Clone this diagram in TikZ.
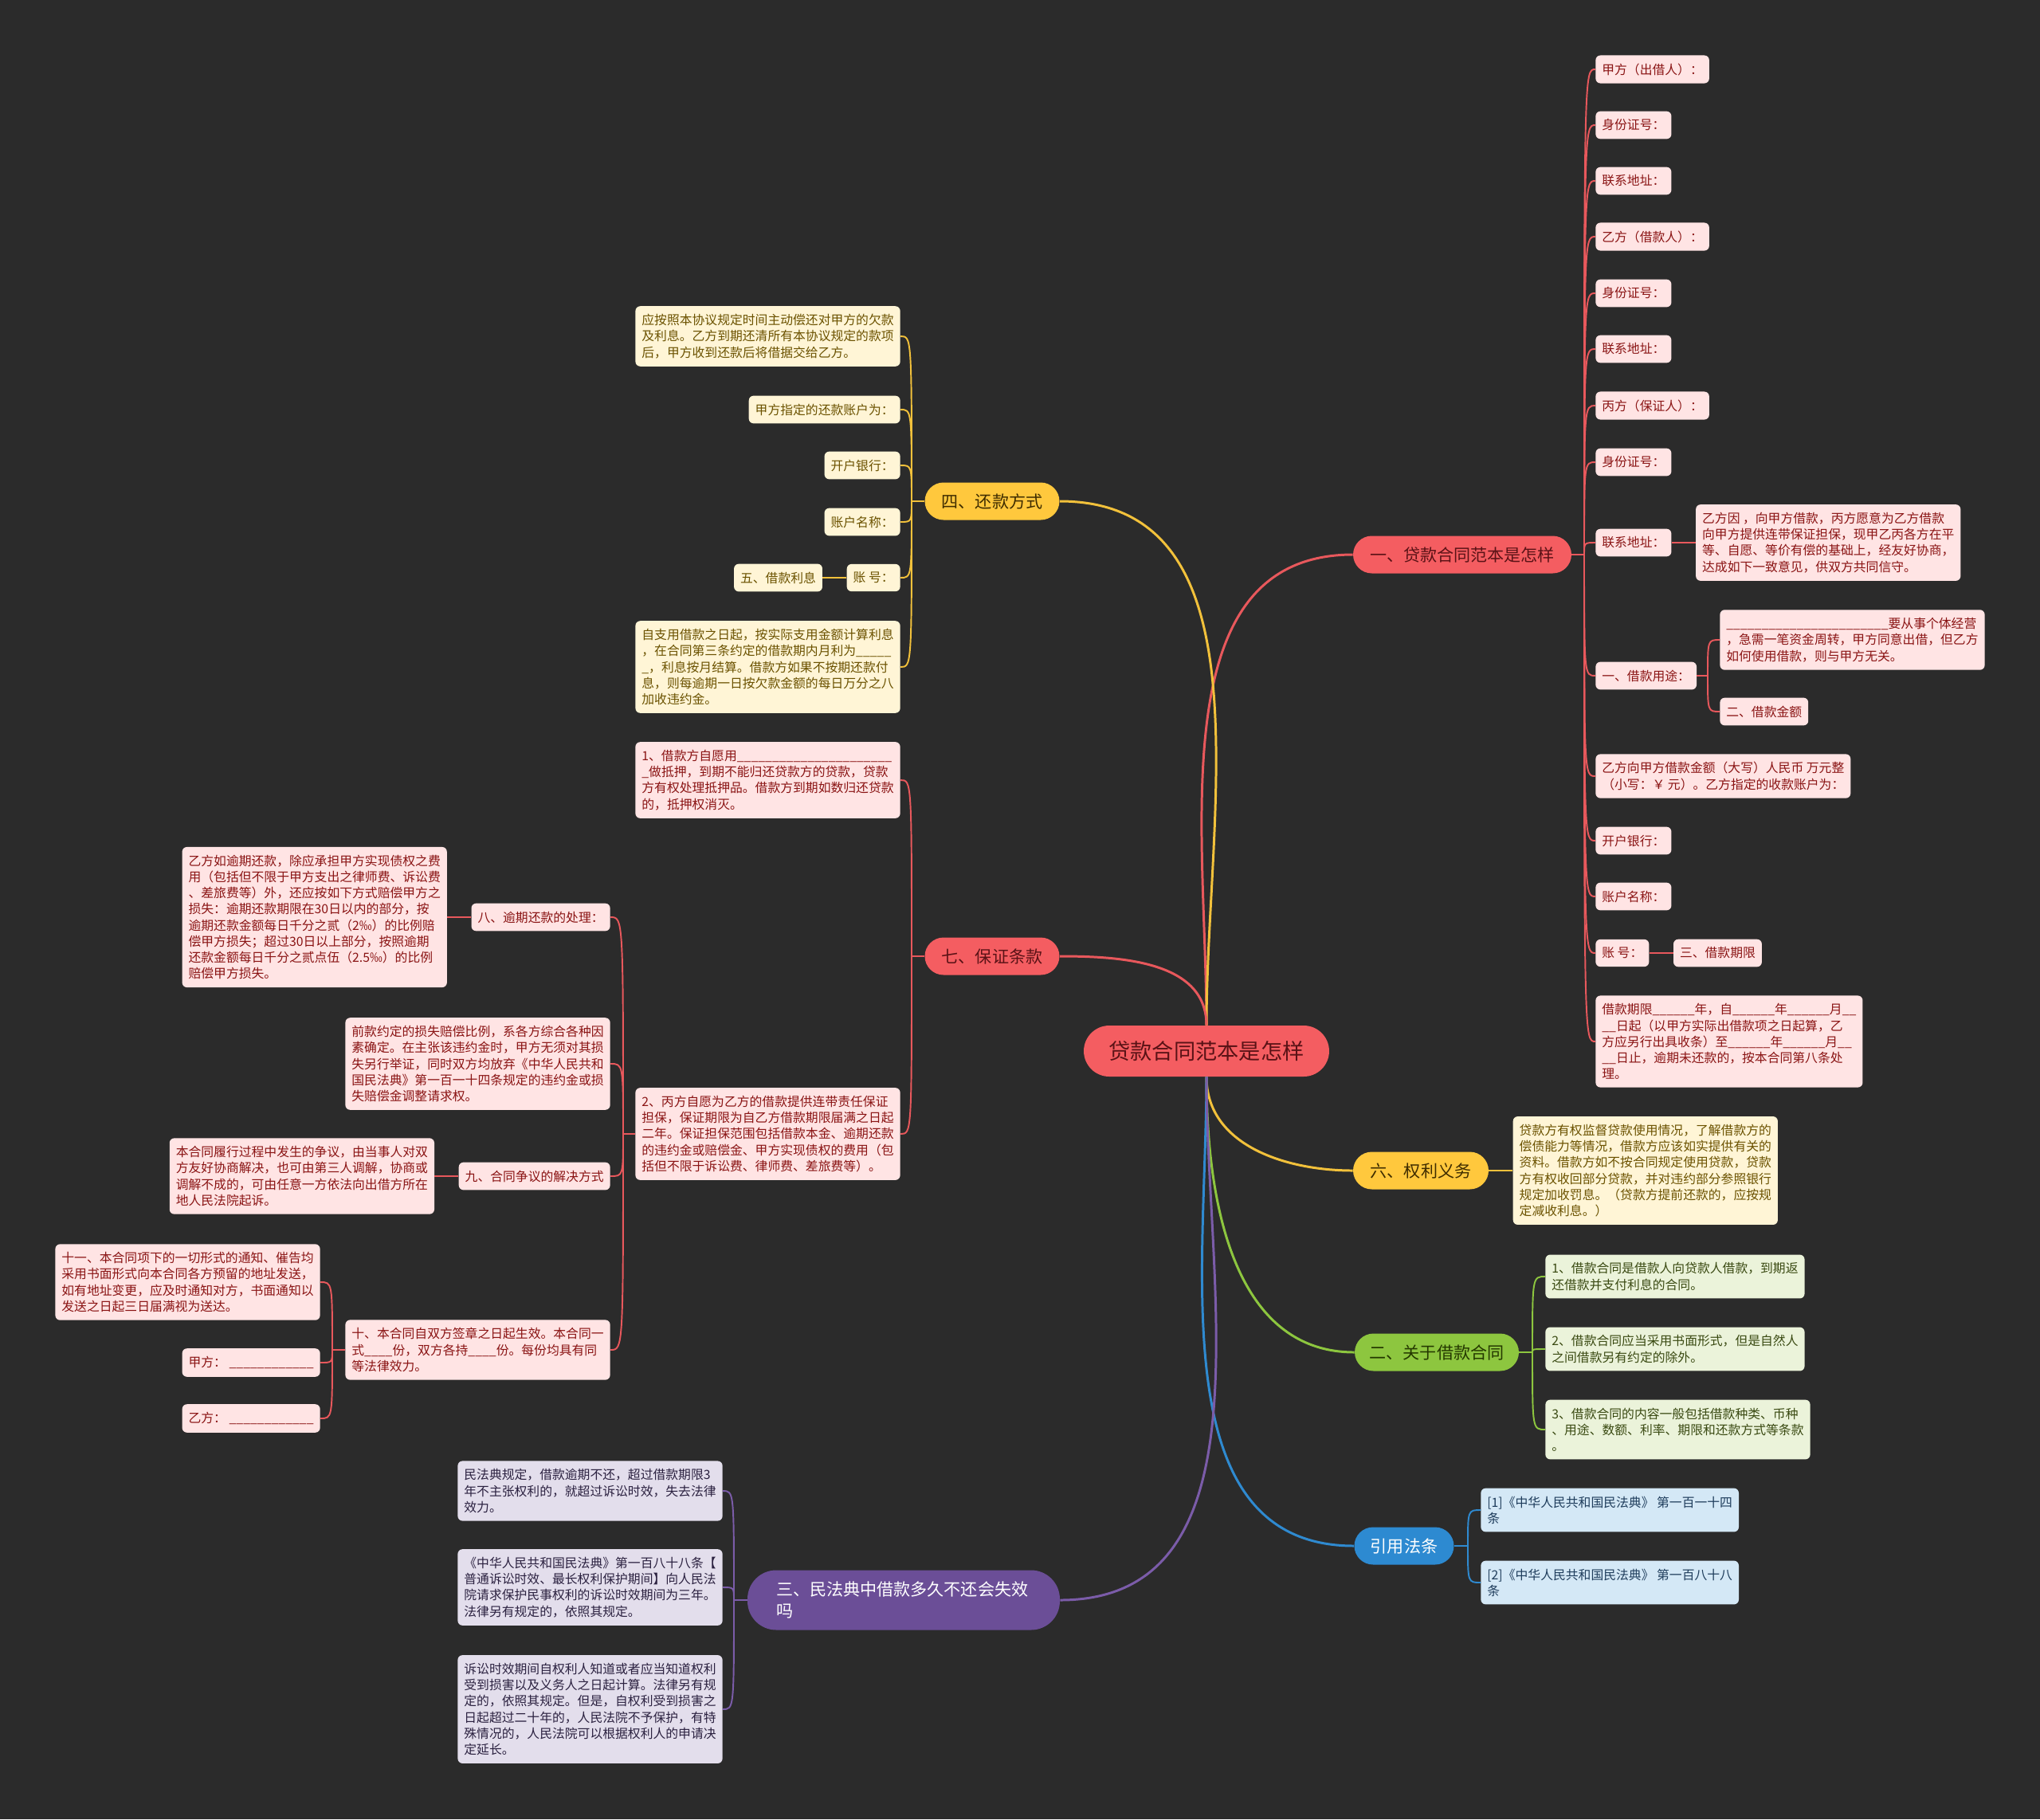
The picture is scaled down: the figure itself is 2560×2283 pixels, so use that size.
\documentclass[tikz,border=0pt]{standalone}
\usepackage{fontspec}
\setmainfont{Noto Sans CJK SC}
\usetikzlibrary{positioning}

\definecolor{bg}{HTML}{2B2B2B}
\definecolor{redmain}{HTML}{F45D61}
\definecolor{redtext}{HTML}{5A1216}
\definecolor{rfill}{HTML}{FFE4E4}
\definecolor{rtext}{HTML}{8A1414}
\definecolor{rcol}{HTML}{E8585C}
\definecolor{ymain}{HTML}{FFC83D}
\definecolor{ytext}{HTML}{3F2D00}
\definecolor{yfill}{HTML}{FFF5D6}
\definecolor{yltext}{HTML}{6B5200}
\definecolor{ycol}{HTML}{F2C13B}
\definecolor{gmain}{HTML}{8DC63F}
\definecolor{gtext}{HTML}{243800}
\definecolor{gfill}{HTML}{EBF3DA}
\definecolor{gltext}{HTML}{3A4A12}
\definecolor{gcol}{HTML}{8DC63F}
\definecolor{qmain}{HTML}{2D8AD1}
\definecolor{qfill}{HTML}{D4E8F6}
\definecolor{qltext}{HTML}{1F3D5C}
\definecolor{qcol}{HTML}{2F8AD0}
\definecolor{pmain}{HTML}{6B4E97}
\definecolor{pfill}{HTML}{E3DEEC}
\definecolor{pltext}{HTML}{2B2140}
\definecolor{pcol}{HTML}{7B5CA9}

\tikzset{
  root/.style={rectangle, rounded corners=0.64cm, fill=redmain, text=redtext,
    minimum width=6.16cm, minimum height=1.28cm, inner sep=0pt,
    font=\fontsize{15.5}{18}\selectfont},
  branch/.style={rectangle, rounded corners=0.47cm, minimum height=0.94cm,
    inner sep=0pt, font=\fontsize{12}{15}\selectfont},
  leaf/.style={rectangle, rounded corners=0.12cm, inner xsep=0.16cm,
    inner ysep=0.2cm, align=left, font=\fontsize{9}{11.5}\selectfont},
  rleaf/.style={leaf, fill=rfill, text=rtext},
  yleaf/.style={leaf, fill=yfill, text=yltext},
  gleaf/.style={leaf, fill=gfill, text=gltext},
  qleaf/.style={leaf, fill=qfill, text=qltext},
  pleaf/.style={leaf, fill=pfill, text=pltext},
  link/.style={line width=1.7pt},
  twig/.style={line width=1.1pt},
}

\begin{document}
\begin{tikzpicture}[x=0.02cm,y=-0.02cm]
\fill[bg] (0,0) rectangle (2560,2283);
\useasboundingbox (0,0) rectangle (2560,2283);

% root and main branches
\node[root] (root) at (1514,1319) {贷款合同范本是怎样};
\node[branch, fill=redmain, text=redtext, minimum width=5.48cm] (b1) at (1835,696) {一、贷款合同范本是怎样};
\node[branch, fill=ymain, text=ytext, minimum width=3.38cm] (b4) at (1245,629) {四、还款方式};
\node[branch, fill=redmain, text=redtext, minimum width=3.38cm] (b7) at (1245,1200) {七、保证条款};
\node[branch, fill=ymain, text=ytext, minimum width=3.4cm] (b6) at (1783,1469) {六、权利义务};
\node[branch, fill=gmain, text=gtext, minimum width=4.12cm] (b2) at (1803,1697) {二、关于借款合同};
\node[branch, fill=qmain, text=white, minimum width=2.5cm] (bq) at (1762,1940) {引用法条};
\node[branch, fill=pmain, text=white, text width=6.4cm, inner xsep=0.72cm, align=left,
  minimum height=1.5cm, rounded corners=0.72cm] (b3) at (1134,2008) {三、民法典中借款多久不还会失效\\吗};

\draw[rcol,link] (root.north) to[out=90,in=180] (b1.west);
\draw[ycol,link] (root.north) to[out=90,in=0] (b4.east);
\draw[rcol,link] (root.north) to[out=90,in=0] (b7.east);
\draw[ycol,link] (root.south) to[out=-90,in=180] (b6.west);
\draw[gcol,link] (root.south) to[out=-90,in=180] (b2.west);
\draw[qcol,link] (root.south) to[out=-90,in=180] (bq.west);
\draw[pcol,link] (root.south) to[out=-90,in=0] (b3.east);

% 四、还款方式
\node[yleaf, anchor=east] (y1) at (1130,422) {应按照本协议规定时间主动偿还对甲方的欠款\\及利息。乙方到期还清所有本协议规定的款项\\后，甲方收到还款后将借据交给乙方。};
\node[yleaf, anchor=east] (y2) at (1130,514) {甲方指定的还款账户为：};
\node[yleaf, anchor=east] (y3) at (1130,584) {开户银行：};
\node[yleaf, anchor=east] (y4) at (1130,655) {账户名称：};
\node[yleaf, anchor=east] (y5) at (1130,725) {账 号：};
\node[yleaf, left=0.6cm of y5] (y5a) {五、借款利息};
\node[yleaf, anchor=east] (y6) at (1130,837) {自支用借款之日起，按实际支用金额计算利息\\，在合同第三条约定的借款期内月利为\_\_\_\_\_\\\_，利息按月结算。借款方如果不按期还款付\\息，则每逾期一日按欠款金额的每日万分之八\\加收违约金。};
\coordinate (t4) at (1144,629);
\draw[ycol,twig] (b4.west) -- (t4);
\foreach \n in {y1,y2,y3,y4,y5,y6}
  \draw[ycol,twig] (t4) .. controls (t4 |- \n.east) .. (\n.east);
\draw[ycol,twig] (y5.west) -- (y5a.east);

% 七、保证条款
\node[rleaf, anchor=east] (r71) at (1130,979) {1、借款方自愿用\_\_\_\_\_\_\_\_\_\_\_\_\_\_\_\_\_\_\_\_\_\_\\\_做抵押，到期不能归还贷款方的贷款，贷款\\方有权处理抵押品。借款方到期如数归还贷款\\的，抵押权消灭。};
\node[rleaf, anchor=east] (r72) at (1130,1423) {2、丙方自愿为乙方的借款提供连带责任保证\\担保，保证期限为自乙方借款期限届满之日起\\二年。保证担保范围包括借款本金、逾期还款\\的违约金或赔偿金、甲方实现债权的费用（包\\括但不限于诉讼费、律师费、差旅费等）。};
\coordinate (t7) at (1144,1200);
\draw[rcol,twig] (b7.west) -- (t7);
\foreach \n in {r71,r72}
  \draw[rcol,twig] (t7) .. controls (t7 |- \n.east) .. (\n.east);

\node[rleaf, anchor=east] (r8) at (766,1151) {八、逾期还款的处理：};
\node[rleaf, left=0.6cm of r8] (r8a) {乙方如逾期还款，除应承担甲方实现债权之费\\用（包括但不限于甲方支出之律师费、诉讼费\\、差旅费等）外，还应按如下方式赔偿甲方之\\损失：逾期还款期限在30日以内的部分，按\\逾期还款金额每日千分之贰（2‰）的比例赔\\偿甲方损失；超过30日以上部分，按照逾期\\还款金额每日千分之贰点伍（2.5‰）的比例\\赔偿甲方损失。};
\node[rleaf, anchor=east] (r8b) at (766,1335) {前款约定的损失赔偿比例，系各方综合各种因\\素确定。在主张该违约金时，甲方无须对其损\\失另行举证，同时双方均放弃《中华人民共和\\国民法典》第一百一十四条规定的违约金或损\\失赔偿金调整请求权。};
\node[rleaf, anchor=east] (r9) at (766,1476) {九、合同争议的解决方式};
\node[rleaf, left=0.6cm of r9] (r9a) {本合同履行过程中发生的争议，由当事人对双\\方友好协商解决，也可由第三人调解，协商或\\调解不成的，可由任意一方依法向出借方所在\\地人民法院起诉。};
\node[rleaf, anchor=east] (r10) at (766,1694) {十、本合同自双方签章之日起生效。本合同一\\式\_\_\_\_份，双方各持\_\_\_\_份。每份均具有同\\等法律效力。};
\coordinate (t72) at (782,1423);
\draw[rcol,twig] (r72.west) -- (t72);
\foreach \n in {r8,r8b,r9,r10}
  \draw[rcol,twig] (t72) .. controls (t72 |- \n.east) .. (\n.east);
\draw[rcol,twig] (r8.west) -- (r8a.east);
\draw[rcol,twig] (r9.west) -- (r9a.east);

\node[rleaf, anchor=east] (r11) at (402,1609) {十一、本合同项下的一切形式的通知、催告均\\采用书面形式向本合同各方预留的地址发送，\\如有地址变更，应及时通知对方，书面通知以\\发送之日起三日届满视为送达。};
\node[rleaf, anchor=east] (rja) at (402,1710) {甲方： \_\_\_\_\_\_\_\_\_\_\_\_};
\node[rleaf, anchor=east] (rjb) at (402,1780) {乙方： \_\_\_\_\_\_\_\_\_\_\_\_};
\coordinate (t10) at (417,1694);
\draw[rcol,twig] (r10.west) -- (t10);
\foreach \n in {r11,rja,rjb}
  \draw[rcol,twig] (t10) .. controls (t10 |- \n.east) .. (\n.east);

% 一、贷款合同范本是怎样
\node[rleaf, anchor=west] (a1) at (2002,87) {甲方（出借人）：};
\node[rleaf, anchor=west] (a2) at (2002,157) {身份证号：};
\node[rleaf, anchor=west] (a3) at (2002,227) {联系地址：};
\node[rleaf, anchor=west] (a4) at (2002,297) {乙方（借款人）：};
\node[rleaf, anchor=west] (a5) at (2002,368) {身份证号：};
\node[rleaf, anchor=west] (a6) at (2002,438) {联系地址：};
\node[rleaf, anchor=west] (a7) at (2002,509) {丙方（保证人）：};
\node[rleaf, anchor=west] (a8) at (2002,580) {身份证号：};
\node[rleaf, anchor=west] (a9) at (2002,681) {联系地址：};
\node[rleaf, right=0.6cm of a9] (a9a) {乙方因 ，向甲方借款，丙方愿意为乙方借款\\向甲方提供连带保证担保，现甲乙丙各方在平\\等、自愿、等价有偿的基础上，经友好协商，\\达成如下一致意见，供双方共同信守。};
\node[rleaf, anchor=west] (a10) at (2002,848) {一、借款用途：};
\node[rleaf, anchor=west] (a10a) at (2158,803) {\_\_\_\_\_\_\_\_\_\_\_\_\_\_\_\_\_\_\_\_\_\_\_要从事个体经营\\，急需一笔资金周转，甲方同意出借，但乙方\\如何使用借款，则与甲方无关。};
\node[rleaf, anchor=west] (a10b) at (2158,893) {二、借款金额};
\node[rleaf, anchor=west] (a11) at (2002,974) {乙方向甲方借款金额（大写）人民币 万元整\\（小写：￥ 元）。乙方指定的收款账户为：};
\node[rleaf, anchor=west] (a12) at (2002,1055) {开户银行：};
\node[rleaf, anchor=west] (a13) at (2002,1125) {账户名称：};
\node[rleaf, anchor=west] (a14) at (2002,1196) {账 号：};
\node[rleaf, right=0.6cm of a14] (a14a) {三、借款期限};
\node[rleaf, anchor=west] (a15) at (2002,1307) {借款期限\_\_\_\_\_\_年，自\_\_\_\_\_\_年\_\_\_\_\_\_月\_\_\\\_\_日起（以甲方实际出借款项之日起算，乙\\方应另行出具收条）至\_\_\_\_\_\_年\_\_\_\_\_\_月\_\_\\\_\_日止，逾期未还款的，按本合同第八条处\\理。};
\coordinate (t1) at (1988,696);
\draw[rcol,twig] (b1.east) -- (t1);
\foreach \n in {a1,a2,a3,a4,a5,a6,a7,a8,a9,a10,a11,a12,a13,a14,a15}
  \draw[rcol,twig] (t1) .. controls (t1 |- \n.west) .. (\n.west);
\draw[rcol,twig] (a9.east) -- (a9a.west);
\draw[rcol,twig] (a14.east) -- (a14a.west);
\coordinate (t110) at (2143,848);
\draw[rcol,twig] (a10.east) -- (t110);
\foreach \n in {a10a,a10b}
  \draw[rcol,twig] (t110) .. controls (t110 |- \n.west) .. (\n.west);

% 六、权利义务
\node[yleaf, right=0.6cm of b6] (g6) {贷款方有权监督贷款使用情况，了解借款方的\\偿债能力等情况，借款方应该如实提供有关的\\资料。借款方如不按合同规定使用贷款，贷款\\方有权收回部分贷款，并对违约部分参照银行\\规定加收罚息。（贷款方提前还款的，应按规\\定减收利息。）};
\draw[ycol,twig] (b6.east) -- (g6.west);

% 二、关于借款合同
\node[gleaf, anchor=west] (c1) at (1939,1602) {1、借款合同是借款人向贷款人借款，到期返\\还借款并支付利息的合同。};
\node[gleaf, anchor=west] (c2) at (1939,1693) {2、借款合同应当采用书面形式，但是自然人\\之间借款另有约定的除外。};
\node[gleaf, anchor=west] (c3) at (1939,1794) {3、借款合同的内容一般包括借款种类、币种\\、用途、数额、利率、期限和还款方式等条款\\。};
\coordinate (t2) at (1923,1697);
\draw[gcol,twig] (b2.east) -- (t2);
\foreach \n in {c1,c2,c3}
  \draw[gcol,twig] (t2) .. controls (t2 |- \n.west) .. (\n.west);

% 引用法条
\node[qleaf, anchor=west] (q1) at (1858,1895) {[1]《中华人民共和国民法典》 第一百一十四\\条};
\node[qleaf, anchor=west] (q2) at (1858,1986) {[2]《中华人民共和国民法典》 第一百八十八\\条};
\coordinate (tq) at (1842,1940);
\draw[qcol,twig] (bq.east) -- (tq);
\foreach \n in {q1,q2}
  \draw[qcol,twig] (tq) .. controls (tq |- \n.west) .. (\n.west);

% 三、民法典中借款多久不还会失效吗
\node[pleaf, anchor=east] (p1) at (907,1871) {民法典规定，借款逾期不还，超过借款期限3\\年不主张权利的，就超过诉讼时效，失去法律\\效力。};
\node[pleaf, anchor=east] (p2) at (907,1992) {《中华人民共和国民法典》第一百八十八条【\\普通诉讼时效、最长权利保护期间】向人民法\\院请求保护民事权利的诉讼时效期间为三年。\\法律另有规定的，依照其规定。};
\node[pleaf, anchor=east] (p3) at (907,2145) {诉讼时效期间自权利人知道或者应当知道权利\\受到损害以及义务人之日起计算。法律另有规\\定的，依照其规定。但是，自权利受到损害之\\日起超过二十年的，人民法院不予保护，有特\\殊情况的，人民法院可以根据权利人的申请决\\定延长。};
\coordinate (t3) at (921,2008);
\draw[pcol,twig] (b3.west) -- (t3);
\foreach \n in {p1,p2,p3}
  \draw[pcol,twig] (t3) .. controls (t3 |- \n.east) .. (\n.east);
\end{tikzpicture}
\end{document}
